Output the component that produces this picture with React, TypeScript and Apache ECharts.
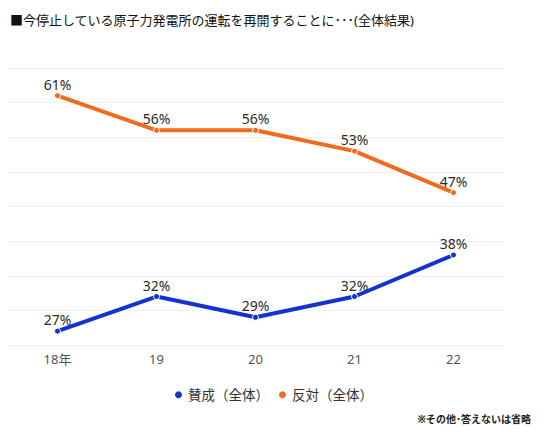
import React, { useEffect, useRef } from "react";
import * as echarts from "echarts";

const categories = ["18年", "19", "20", "21", "22"];
const approve = [27, 32, 29, 32, 38];
const oppose = [61, 56, 56, 53, 47];
const seriesNames = ["賛成（全体）", "反対（全体）"];
const titleText = "■今停止している原子力発電所の運転を再開することに･･･(全体結果)";
const noteText = "※その他･答えないは省略";

const FONT = "'Noto Sans', 'Noto Sans CJK JP', sans-serif";

export default function App() {
  const ref = useRef<HTMLDivElement>(null);
  useEffect(() => {
    if (!ref.current) return;
    const chart = echarts.init(ref.current, null, { renderer: "svg" });
    const labelCfg = {
      show: true,
      position: "top",
      distance: 1,
      formatter: "{c}%",
      color: "#2a2a2a",
      fontSize: 14,
      fontFamily: FONT,
    };
    chart.setOption({
      animation: false,
      backgroundColor: "#fff",
      textStyle: { fontFamily: FONT },
      title: {
        text: titleText,
        left: 2,
        top: 5,
        padding: 0,
        textStyle: { fontSize: 13, fontWeight: "normal", color: "#111", fontFamily: FONT },
      },
      graphic: [
        {
          type: "text",
          right: 7,
          top: 406,
          style: { text: noteText, fontSize: 10, fontWeight: "bold", fill: "#222", fontFamily: FONT },
        },
      ],
      legend: {
        data: seriesNames,
        top: 375,
        left: "center",
        icon: "circle",
        itemWidth: 9,
        itemHeight: 9,
        itemGap: 8,
        textStyle: { fontSize: 13.5, color: "#333", fontFamily: FONT },
      },
      grid: { left: 0, right: 35, top: 60, bottom: 85, containLabel: false },
      xAxis: {
        type: "category",
        data: categories,
        boundaryGap: true,
        axisLine: { show: true, lineStyle: { color: "#eee" } },
        axisTick: { show: false },
        axisLabel: { color: "#555", fontSize: 13, margin: 7, fontFamily: FONT },
      },
      yAxis: {
        type: "value",
        min: 25,
        max: 65,
        interval: 5,
        axisLabel: { show: false },
        axisLine: { show: false },
        axisTick: { show: false },
        splitLine: { lineStyle: { color: "#eee", width: 1 } },
      },
      series: [
        {
          name: seriesNames[0],
          type: "line",
          data: approve,
          color: "#1432cc",
          lineStyle: { width: 4, color: "#1432cc" },
          symbol: "circle",
          symbolSize: 6,
          itemStyle: { color: "#1432cc", borderColor: "#fff", borderWidth: 1 },
          label: labelCfg,
        },
        {
          name: seriesNames[1],
          type: "line",
          data: oppose,
          color: "#ef6c1f",
          lineStyle: { width: 4, color: "#ef6c1f" },
          symbol: "circle",
          symbolSize: 6,
          itemStyle: { color: "#ef6c1f", borderColor: "#fff", borderWidth: 1 },
          label: labelCfg,
        },
      ],
    });
    return () => chart.dispose();
  }, []);
  return <div ref={ref} style={{ width: 530, height: 422 }} />;
}
